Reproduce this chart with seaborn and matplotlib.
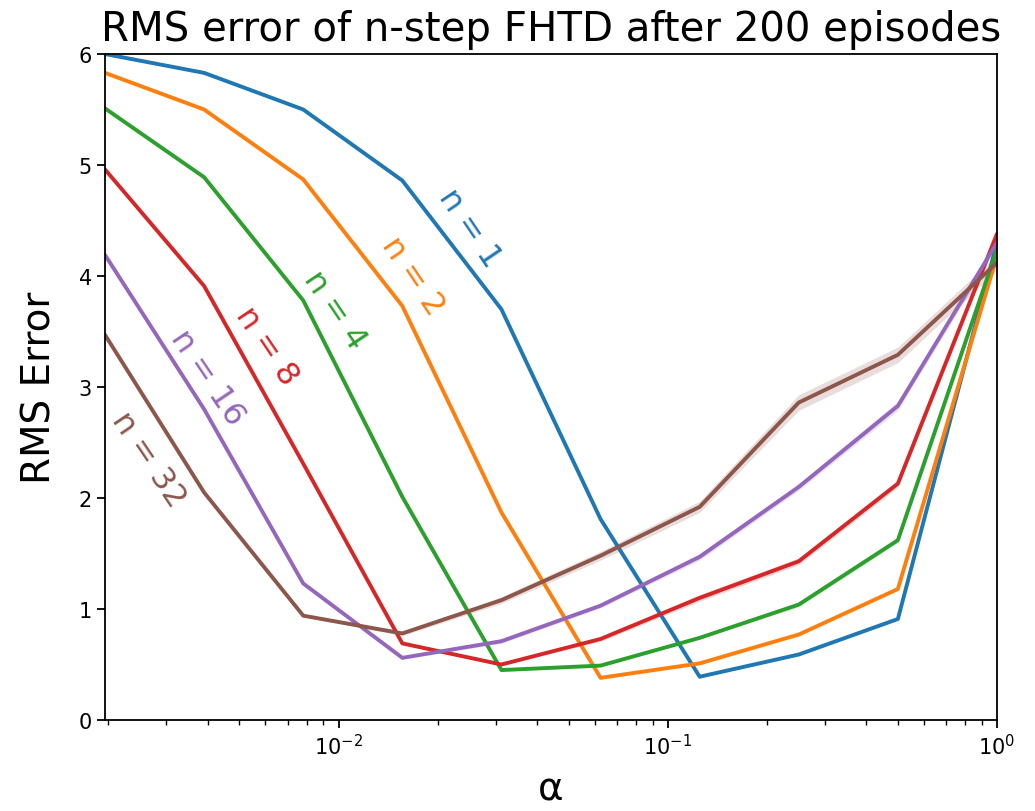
import numpy as np
import pandas as pd
import matplotlib
matplotlib.use("Agg")
import matplotlib.pyplot as plt
import seaborn as sns

# Step sizes: alpha = 2^-9 ... 2^0
alphas = [1/512, 1/256, 1/128, 1/64, 1/32, 1/16, 1/8, 1/4, 1/2, 1.0]

# Mean RMS error after 200 episodes for each n
rms_n1 = [6.00, 5.83, 5.50, 4.86, 3.70, 1.81, 0.39, 0.59, 0.91, 4.30]
rms_n2 = [5.83, 5.50, 4.87, 3.73, 1.87, 0.38, 0.51, 0.77, 1.18, 4.18]
rms_n4 = [5.51, 4.89, 3.78, 2.01, 0.45, 0.49, 0.74, 1.04, 1.62, 4.24]
rms_n8 = [4.96, 3.91, 2.31, 0.69, 0.50, 0.73, 1.10, 1.43, 2.13, 4.38]
rms_n16 = [4.19, 2.80, 1.23, 0.56, 0.71, 1.03, 1.47, 2.10, 2.83, 4.30]
rms_n32 = [3.47, 2.05, 0.94, 0.78, 1.08, 1.48, 1.92, 2.86, 3.29, 4.12]

# Half-width of the confidence band around each mean
ci_n1 = [0.01, 0.01, 0.01, 0.01, 0.01, 0.01, 0.01, 0.01, 0.01, 0.02]
ci_n2 = [0.01, 0.01, 0.01, 0.01, 0.01, 0.01, 0.01, 0.01, 0.01, 0.02]
ci_n4 = [0.01, 0.01, 0.01, 0.01, 0.01, 0.01, 0.01, 0.02, 0.02, 0.02]
ci_n8 = [0.01, 0.01, 0.01, 0.01, 0.01, 0.02, 0.03, 0.03, 0.03, 0.03]
ci_n16 = [0.01, 0.01, 0.01, 0.01, 0.02, 0.02, 0.03, 0.03, 0.04, 0.04]
ci_n32 = [0.01, 0.01, 0.01, 0.02, 0.03, 0.04, 0.05, 0.07, 0.07, 0.07]

series_names = ["n = 1", "n = 2", "n = 4", "n = 8", "n = 16", "n = 32"]
series_means = [rms_n1, rms_n2, rms_n4, rms_n8, rms_n16, rms_n32]
series_ci = [ci_n1, ci_n2, ci_n4, ci_n8, ci_n16, ci_n32]

# Where each curve is labelled (alpha, rms)
label_alpha = [0.0250, 0.0168, 0.00975, 0.00605, 0.0040, 0.00265]
label_rms = [4.44, 4.00, 3.70, 3.37, 3.09, 2.35]

frames = []
for name, vals in zip(series_names, series_means):
    frames.append(pd.DataFrame({"alpha": alphas, "rms": vals, "n": name}))
df = pd.concat(frames, ignore_index=True)

sns.set_style("ticks")
plt.rcParams["font.family"] = ["DejaVu Sans"]
plt.rcParams["text.color"] = "black"
plt.rcParams["axes.labelcolor"] = "black"

fig = plt.figure(figsize=(10.35, 8.12), dpi=100)
ax = fig.add_axes([105 / 1035, 1 - 721 / 812, (997 - 105) / 1035, (721 - 55) / 812])

palette = sns.color_palette("tab10", len(series_names))
sns.lineplot(data=df, x="alpha", y="rms", hue="n", hue_order=series_names,
             palette=palette, errorbar=None, linewidth=2.8, legend=False, ax=ax)

for color, vals, ci in zip(palette, series_means, series_ci):
    m = np.array(vals)
    c = np.array(ci)
    ax.fill_between(alphas, m - c, m + c, color=color, alpha=0.2, linewidth=0)

for name, color, xa, ya in zip(series_names, palette, label_alpha, label_rms):
    ax.text(xa, ya, name, color=color, fontsize=23, rotation=-56,
            ha="center", va="center", rotation_mode="anchor")

ax.set_xscale("log")
ax.set_xlim(1 / 512, 1.0)
ax.set_ylim(0, 6)
ax.set_yticks([0, 1, 2, 3, 4, 5, 6])
ax.set_xticks([1e-2, 1e-1, 1e0])

for side in ["left", "right", "top", "bottom"]:
    ax.spines[side].set_visible(True)
    ax.spines[side].set_linewidth(1.3)
    ax.spines[side].set_color("black")

ax.tick_params(axis="both", which="major", length=6, width=1.3, labelsize=15,
               color="black", labelcolor="black")
ax.tick_params(axis="x", which="minor", length=3.5, width=1.0, color="black")

ax.set_title("RMS error of n-step FHTD after 200 episodes", fontsize=29, pad=10)
ax.set_xlabel("\u03b1", fontsize=28, labelpad=8)
ax.set_ylabel("RMS Error", fontsize=28, labelpad=14)

fig.savefig("out.png", dpi=100)
